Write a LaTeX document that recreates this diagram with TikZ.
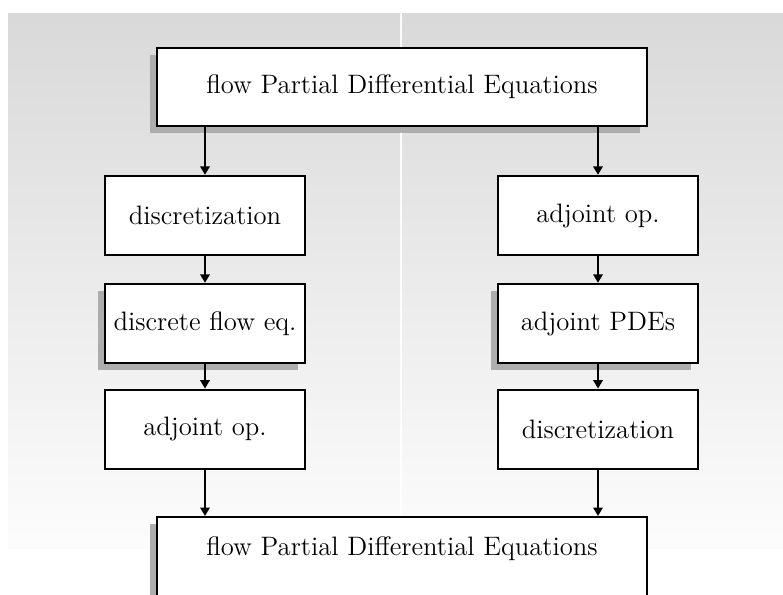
\documentclass[tikz,border=0pt]{standalone}
\usepackage{tikz}
\usetikzlibrary{positioning,arrows.meta,shadows}

\tikzstyle{block}     = [rectangle, draw, line width=1.1pt, fill=white, text centered,
                         minimum width=90pt, minimum height=35.5pt, inner sep=0pt, font=\large]
\tikzstyle{wide}      = [block, minimum width=220.5pt, minimum height=35pt]
\tikzstyle{shadowbox} = [drop shadow={shadow xshift=-3.2pt, shadow yshift=-3.2pt,
                         fill=black!32, opacity=1}]
\tikzstyle{arrow}     = [line width=0.9pt, -{Triangle[length=3.8pt, width=4.2pt]}]
\tikzstyle{bgpanel}   = [top color=black!15, bottom color=black!1]

\begin{document}
\begin{tikzpicture}[x=0.45pt, y=-0.45pt]
	\useasboundingbox (0,0) rectangle (783,594);
	\clip (0,0) rectangle (783,594);

	% backdrop, two halves
	\shade[bgpanel] (8,13) rectangle (400,548);
	\shade[bgpanel] (402,13) rectangle (783,548);

	\node[wide, shadowbox] (pde) at (402,87) {flow Partial Differential Equations};

	% discretize first
	\node[block] (disc) at (205,215.5) {discretization};
	\node[block, shadowbox, below=12pt of disc] (dflow) {discrete flow eq.};
	\node[block, below=11pt of dflow] (adjL) {adjoint op.};

	% adjoint first
	\node[block] (adjR) at (598,215.5) {adjoint op.};
	\node[block, shadowbox, below=12pt of adjR] (apde) {adjoint PDEs};
	\node[block, below=11pt of apde] (discR) {discretization};

	% runs off the bottom
	\node[wide, shadowbox, anchor=north, minimum height=40pt, text depth=14pt]
		(pdeB) at (402,516) {flow Partial Differential Equations};

	\draw[arrow] (pde.south -| disc.north) -- (disc.north);
	\draw[arrow] (disc.south) -- (dflow.north);
	\draw[arrow] (dflow.south) -- (adjL.north);
	\draw[arrow] (adjL.south) -- (pdeB.north -| adjL.south);

	\draw[arrow] (pde.south -| adjR.north) -- (adjR.north);
	\draw[arrow] (adjR.south) -- (apde.north);
	\draw[arrow] (apde.south) -- (discR.north);
	\draw[arrow] (discR.south) -- (pdeB.north -| discR.south);
\end{tikzpicture}
\end{document}
